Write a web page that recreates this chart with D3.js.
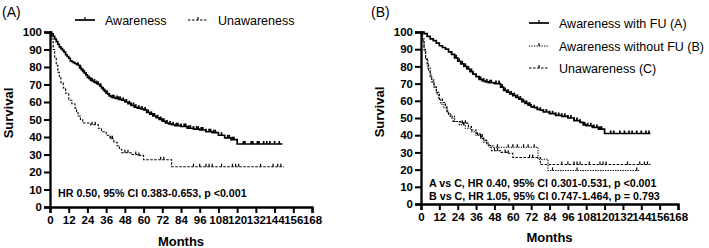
<!DOCTYPE html>
<html><head><meta charset="utf-8">
<script src="https://cdn.jsdelivr.net/npm/d3@7"></script>
<style>
html,body{margin:0;padding:0;background:#fff;}
svg{display:block;}
text{font-family:"Liberation Sans",Arial,sans-serif;fill:#000;}
</style></head>
<body>
<svg id="chart" width="709" height="248"></svg>
<script>
// ---------- DATA ----------
const xTicks = [0,12,24,36,48,60,72,84,96,108,120,132,144,156,168];
const yTicks = [0,10,20,30,40,50,60,70,80,90,100];

// Panel A: Awareness [month, survival %]
const awarenessA = [[0,100],[1,99],[2,97.5],[3,96],[4,94.5],[5,93],[6,91.5],[7,90.5],[8,89.5],[9,88.5],[10,87],[11,86],[12,85],[13,83.5],[14,83],[15,82.5],[16,82],[17,81.5],[18,81],[19,79.5],[20,78.5],[21,77.5],[22,76.5],[23,75.5],[24,74],[25,73.5],[26,72.5],[27,72],[28,71.5],[29,71],[30,70.5],[31,70],[32,69],[33,68],[34,67],[35,66],[36,65],[37,64.5],[38,63.5],[39,63],[40,62.5],[42,62],[44,61.5],[46,61],[48,60],[50,59],[52,58],[54,57],[56,56.5],[58,56],[60,55.5],[62,54],[64,53],[66,52],[68,51],[70,50],[72,49],[74,48],[76,47.5],[78,47],[80,46.5],[84,46],[88,45],[92,44.5],[96,44],[100,43],[104,42.5],[108,41],[112,39.5],[116,38.5],[120,36],[149,36]];
const awarenessACensor = [18,19.5,21,22,23,25,26,27,28.5,30,31,32.5,34,35,36.5,38,40,41,43,44,45,47,49,51,52,53.5,55,57,59,61,63,65,66,67,69,71,72,73,75,77,79,81,82,84,86,87,89,90,92,94,95,97,98,100,102,103,105,106,110,114,115,117,118,124,125,129,130,133,134,137,139,141,144,147];

// Unawareness (same group in both panels)
const unawareness = [[0,100],[1,96],[2,90],[3,85],[4,81],[5,77],[6,74],[7,71],[8.5,68],[10,65],[12,61],[14,59],[16,56.5],[17,54],[18,52],[19.5,50],[21,48],[26,47],[31,45],[33,43],[36,41],[38.5,39],[41,37],[43,35],[44.5,33],[46,31],[52,30],[56,29.5],[60,27],[78,23],[150,23]];
const unawarenessCensor = [27,29,39,40,48,50,55,57,71,73,92,96,100,102,104,110,117,119,121,135,143,146,148];

// Panel B: Awareness with FU (A)
const withFU = [[0,100],[2,99],[4,97.5],[6,96],[8,95],[10,93.5],[12,92],[14,91],[16,90],[18,88.5],[20,87],[22,85],[24,83],[26,81.5],[28,80],[30,78.5],[32,77],[34,75.5],[36,74],[38,72.5],[40,71.5],[42,71],[44,70.5],[48,70],[52,68],[54,66],[56,65],[58,64],[60,63],[62,62],[64,61],[66,59.5],[68,58.5],[70,57.5],[72,56.5],[74,56],[76,55],[78,54.5],[80,53.5],[84,52.5],[88,51.5],[92,51],[96,50],[100,48.5],[104,47.5],[106,46],[108,45.5],[112,44.5],[116,43.5],[120,41],[150,41]];
const withFUCensor = [20,22,23,25,27,28,29,31,33,34,36,38,39,41,43,45,46,49,51,53,55,57,59,61,63,65,67,69,71,72,74,76,78,80,82,84,86,88,90,92,94,96,98,100,102,104,107,109,111,113,115,117,118,124,126,130,133,136,138,141,144,147,149];

// Panel B: Awareness without FU (B)
const withoutFU = [[0,100],[1,95],[2,89],[3,84],[4.5,79],[6,75],[7,72],[8.5,68],[10,64],[11.5,61],[13,58],[15,56],[17,53],[19,51],[22,48],[25,46],[29,44],[33,42],[36,40],[39,38],[41,36],[44,34],[47,33],[76.5,26],[83,19.5],[143,19.5]];
const withoutFUCensor = [28,37,50,57,60,63,67,70,74,86,102,141];

const legendA = ["Awareness","Unawareness"];
const legendB = ["Awareness with FU (A)","Awareness without FU (B)","Unawareness (C)"];
const noteA = ["HR 0.50, 95% CI 0.383-0.653, p <0.001"];
const noteB = ["A vs C, HR 0.40, 95% CI 0.301-0.531, p <0.001","B vs C, HR 1.05, 95% CI 0.747-1.464, p = 0.793"];

// ---------- DRAW ----------
const svg = d3.select("#chart");

function stepAt(data, t){
  const i = d3.bisector(d=>d[0]).right(data, t) - 1;
  return data[Math.max(0,i)][1];
}

function panel(cfg){
  const g = svg.append("g");
  const x = d3.scaleLinear().domain([0,168]).range([cfg.x0, cfg.x1]);
  const y = d3.scaleLinear().domain([0,100]).range([cfg.y0, cfg.y1]);

  g.append("text").attr("x", cfg.titleX).attr("y", 17).attr("font-size", 14).text(cfg.title);

  const line = d3.line().x(d=>x(d[0])).y(d=>y(d[1])).curve(d3.curveStepAfter);
  cfg.series.forEach(s=>{
    g.append("path").datum(s.data).attr("d", line)
      .attr("fill","none").attr("stroke","#000")
      .attr("stroke-width", s.w).attr("stroke-dasharray", s.dash || null);
    g.append("g").selectAll("line").data(s.censor).join("line")
      .attr("x1", t=>x(t)).attr("x2", t=>x(t))
      .attr("y1", t=>y(stepAt(s.data,t))).attr("y2", t=>y(stepAt(s.data,t))-3)
      .attr("stroke","#000").attr("stroke-width", s.w>1.3?1.7:1.2);
  });

  const ax = g.append("g").attr("transform",`translate(0,${cfg.y0})`)
    .call(d3.axisBottom(x).tickValues(xTicks).tickSize(6).tickPadding(3).tickFormat(d3.format("d")));
  const ay = g.append("g").attr("transform",`translate(${cfg.x0},0)`)
    .call(d3.axisLeft(y).tickValues(yTicks).tickSize(6).tickPadding(2).tickFormat(d3.format("d")));
  [ax,ay].forEach(a=>{
    a.select(".domain").attr("stroke-width",2.3).attr("stroke","#000");
    a.selectAll(".tick line").attr("stroke-width",2).attr("stroke","#000");
    a.selectAll(".tick text").attr("font-size",11.5).attr("font-weight","bold")
      .attr("font-family",'"Liberation Sans",Arial,sans-serif').attr("fill","#000");
  });
  g.append("text").attr("x",(cfg.x0+cfg.x1)/2).attr("y",cfg.monthsY).attr("text-anchor","middle")
    .attr("font-size",13).attr("font-weight","bold").text("Months");
  g.append("text").attr("transform",`translate(${cfg.x0-37},${cfg.survY}) rotate(-90)`)
    .attr("text-anchor","middle").attr("font-size",13).attr("font-weight","bold").text("Survival");

  cfg.notes.forEach((n,i)=>{
    g.append("text").attr("x",cfg.noteX).attr("y",cfg.noteY + i*13).attr("font-size",10.7)
      .attr("font-weight","bold").text(n);
  });

  cfg.legend.forEach(L=>{
    const ly = L.y;
    g.append("line").attr("x1",L.x).attr("x2",L.x+20).attr("y1",ly).attr("y2",ly)
      .attr("stroke","#000").attr("stroke-width",cfg.series[L.si].w).attr("stroke-dasharray",cfg.series[L.si].dash||null);
    g.append("line").attr("x1",L.x+10).attr("x2",L.x+10).attr("y1",ly).attr("y2",ly-3)
      .attr("stroke","#000").attr("stroke-width",1.2);
    g.append("text").attr("x",L.x+30).attr("y",ly+4.5).attr("font-size",12.5).text(L.label);
  });
}

panel({
  title:"(A)", titleX:2,
  x0:50, x1:312, y0:207, y1:32, monthsY:246, survY:113,
  series:[
    {data:awarenessA, censor:awarenessACensor, w:1.7},
    {data:unawareness, censor:unawarenessCensor, w:1.1, dash:"2.5,1.5"}
  ],
  notes:noteA, noteX:58, noteY:197,
  legend:[
    {x:75, y:20, si:0, label:legendA[0]},
    {x:188, y:20, si:1, label:legendA[1]}
  ]
});

panel({
  title:"(B)", titleX:371,
  x0:421, x1:678, y0:204, y1:32, monthsY:242, survY:112,
  series:[
    {data:withFU, censor:withFUCensor, w:1.7},
    {data:withoutFU, censor:withoutFUCensor, w:1.1, dash:"1.3,1.2"},
    {data:unawareness, censor:unawarenessCensor, w:1.1, dash:"2.5,1.5"}
  ],
  notes:noteB, noteX:429, noteY:187,
  legend:[
    {x:529, y:23, si:0, label:legendB[0]},
    {x:529, y:46, si:1, label:legendB[1]},
    {x:529, y:68, si:2, label:legendB[2]}
  ]
});
</script>
</body></html>
